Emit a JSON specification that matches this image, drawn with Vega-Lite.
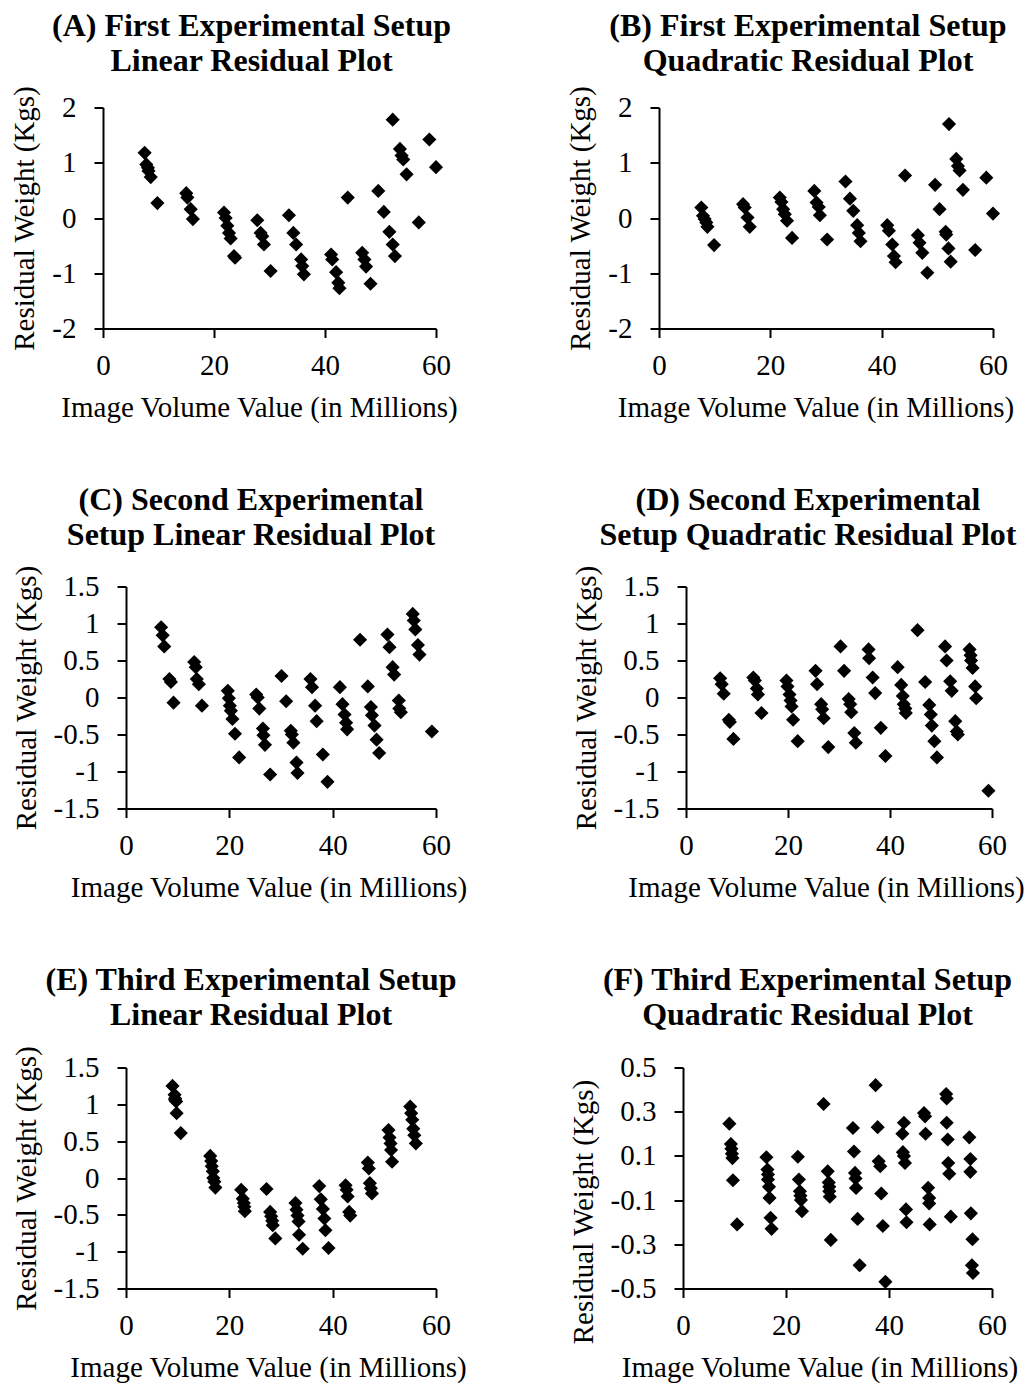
{
"$schema": "https://vega.github.io/schema/vega-lite/v6.json",
"background": "white",
"padding": {"left": 10, "top": 9.5, "right": 0, "bottom": 0},
"config": {
 "view": {"stroke": null},
 "font": "Liberation Serif",
 "axis": {"domainColor": "#000", "domainWidth": 2, "tickColor": "#000", "tickWidth": 2, "tickSize": 9, "labelFont": "Liberation Serif", "labelFontSize": 29, "labelColor": "#000", "titleFont": "Liberation Serif", "titleFontSize": 29, "titleFontWeight": "normal", "titleColor": "#000", "grid": false, "labelFlush": false, "labelOverlap": false},
 "axisX": {"labelPadding": 14, "titlePadding": 13},
 "axisY": {"labelPadding": 18, "titlePadding": 12},
 "title": {"font": "Liberation Serif", "fontSize": 32, "fontWeight": "bold", "color": "#000", "lineHeight": 35, "anchor": "middle", "frame": "group", "baseline": "alphabetic"},
 "point": {"shape": "diamond", "filled": true, "color": "#000", "size": 200, "opacity": 1}
},
"datasets": {
 "A": [{"x":7.5,"y":1.18},{"x":7.8,"y":0.97},{"x":8.1,"y":0.91},{"x":8.2,"y":0.85},{"x":8.6,"y":0.74},{"x":9.8,"y":0.27},{"x":15.0,"y":0.45},{"x":15.2,"y":0.37},{"x":15.8,"y":0.16},{"x":16.2,"y":-0.02},{"x":21.8,"y":0.10},{"x":22.1,"y":0.0},{"x":22.4,"y":-0.14},{"x":22.7,"y":-0.27},{"x":23.0,"y":-0.37},{"x":23.6,"y":-0.69},{"x":23.8,"y":-0.72},{"x":27.8,"y":-0.04},{"x":28.4,"y":-0.27},{"x":28.7,"y":-0.33},{"x":29.0,"y":-0.48},{"x":30.2,"y":-0.96},{"x":33.5,"y":0.05},{"x":34.3,"y":-0.27},{"x":34.8,"y":-0.48},{"x":35.7,"y":-0.75},{"x":35.9,"y":-0.87},{"x":36.2,"y":-1.02},{"x":41.1,"y":-0.66},{"x":41.3,"y":-0.75},{"x":42.0,"y":-0.98},{"x":42.4,"y":-1.17},{"x":42.6,"y":-1.27},{"x":44.1,"y":0.37},{"x":46.7,"y":-0.63},{"x":47.1,"y":-0.75},{"x":47.4,"y":-0.88},{"x":48.2,"y":-1.19},{"x":49.6,"y":0.49},{"x":50.6,"y":0.11},{"x":51.6,"y":-0.25},{"x":52.2,"y":-0.48},{"x":52.6,"y":-0.69},{"x":52.2,"y":1.78},{"x":53.5,"y":1.25},{"x":53.8,"y":1.13},{"x":54.1,"y":1.06},{"x":54.7,"y":0.79},{"x":56.9,"y":-0.08},{"x":58.8,"y":1.42},{"x":60.0,"y":0.92}],
 "B": [{"x":7.6,"y":0.19},{"x":7.9,"y":0.04},{"x":8.2,"y":-0.02},{"x":8.5,"y":-0.08},{"x":8.7,"y":-0.16},{"x":9.9,"y":-0.49},{"x":15.1,"y":0.25},{"x":15.4,"y":0.19},{"x":15.9,"y":0.01},{"x":16.3,"y":-0.16},{"x":21.7,"y":0.37},{"x":22.0,"y":0.29},{"x":22.3,"y":0.16},{"x":22.6,"y":0.07},{"x":23.0,"y":-0.05},{"x":23.9,"y":-0.36},{"x":27.9,"y":0.49},{"x":28.3,"y":0.28},{"x":28.7,"y":0.2},{"x":28.9,"y":0.05},{"x":30.2,"y":-0.39},{"x":33.5,"y":0.66},{"x":34.3,"y":0.35},{"x":34.9,"y":0.13},{"x":35.6,"y":-0.13},{"x":35.9,"y":-0.27},{"x":36.2,"y":-0.42},{"x":41.0,"y":-0.13},{"x":41.3,"y":-0.23},{"x":41.9,"y":-0.48},{"x":42.2,"y":-0.69},{"x":42.5,"y":-0.80},{"x":44.2,"y":0.77},{"x":46.5,"y":-0.31},{"x":46.8,"y":-0.45},{"x":47.3,"y":-0.63},{"x":48.2,"y":-0.99},{"x":49.6,"y":0.60},{"x":50.4,"y":0.16},{"x":51.5,"y":-0.25},{"x":51.6,"y":-0.30},{"x":52.0,"y":-0.55},{"x":52.4,"y":-0.79},{"x":52.1,"y":1.70},{"x":53.4,"y":1.07},{"x":53.7,"y":0.94},{"x":54.0,"y":0.86},{"x":54.6,"y":0.51},{"x":56.8,"y":-0.58},{"x":58.8,"y":0.73},{"x":60.0,"y":0.08}],
 "C": [{"x":6.8,"y":0.95},{"x":7.1,"y":0.84},{"x":7.4,"y":0.69},{"x":8.4,"y":0.25},{"x":8.7,"y":0.21},{"x":9.2,"y":-0.07},{"x":13.2,"y":0.48},{"x":13.5,"y":0.41},{"x":13.7,"y":0.25},{"x":14.1,"y":0.18},{"x":14.7,"y":-0.11},{"x":19.7,"y":0.09},{"x":19.9,"y":-0.01},{"x":20.1,"y":-0.11},{"x":20.3,"y":-0.18},{"x":20.6,"y":-0.29},{"x":21.1,"y":-0.49},{"x":21.9,"y":-0.81},{"x":25.2,"y":0.04},{"x":25.5,"y":0.0},{"x":25.8,"y":-0.15},{"x":26.5,"y":-0.42},{"x":26.6,"y":-0.51},{"x":26.9,"y":-0.64},{"x":27.9,"y":-1.04},{"x":30.1,"y":0.29},{"x":31.0,"y":-0.05},{"x":31.9,"y":-0.45},{"x":32.1,"y":-0.50},{"x":32.4,"y":-0.61},{"x":33.0,"y":-0.88},{"x":33.2,"y":-1.02},{"x":35.7,"y":0.25},{"x":36.0,"y":0.14},{"x":36.6,"y":-0.11},{"x":36.9,"y":-0.32},{"x":38.1,"y":-0.77},{"x":39.0,"y":-1.14},{"x":41.4,"y":0.14},{"x":41.9,"y":-0.09},{"x":42.3,"y":-0.23},{"x":42.6,"y":-0.34},{"x":42.8,"y":-0.43},{"x":45.3,"y":0.78},{"x":46.8,"y":0.15},{"x":47.4,"y":-0.13},{"x":47.6,"y":-0.24},{"x":48.1,"y":-0.38},{"x":48.5,"y":-0.57},{"x":49.0,"y":-0.75},{"x":50.6,"y":0.85},{"x":51.0,"y":0.68},{"x":51.6,"y":0.41},{"x":51.9,"y":0.31},{"x":52.8,"y":-0.04},{"x":52.9,"y":-0.15},{"x":53.2,"y":-0.20},{"x":55.5,"y":1.13},{"x":55.7,"y":1.04},{"x":56.0,"y":0.92},{"x":56.5,"y":0.71},{"x":56.8,"y":0.58},{"x":59.2,"y":-0.46}],
 "D": [{"x":6.7,"y":0.26},{"x":7.0,"y":0.18},{"x":7.4,"y":0.05},{"x":8.4,"y":-0.30},{"x":8.6,"y":-0.33},{"x":9.3,"y":-0.56},{"x":13.2,"y":0.27},{"x":13.5,"y":0.23},{"x":13.9,"y":0.12},{"x":14.1,"y":0.04},{"x":14.8,"y":-0.21},{"x":19.7,"y":0.23},{"x":19.9,"y":0.15},{"x":20.3,"y":0.04},{"x":20.5,"y":-0.04},{"x":20.7,"y":-0.12},{"x":21.0,"y":-0.30},{"x":21.9,"y":-0.59},{"x":25.4,"y":0.36},{"x":25.7,"y":0.18},{"x":26.5,"y":-0.09},{"x":26.7,"y":-0.16},{"x":27.0,"y":-0.28},{"x":27.9,"y":-0.67},{"x":30.3,"y":0.69},{"x":31.0,"y":0.36},{"x":31.9,"y":-0.02},{"x":32.2,"y":-0.09},{"x":32.4,"y":-0.20},{"x":33.0,"y":-0.48},{"x":33.3,"y":-0.61},{"x":35.8,"y":0.65},{"x":35.9,"y":0.53},{"x":36.6,"y":0.27},{"x":37.1,"y":0.06},{"x":38.2,"y":-0.41},{"x":39.1,"y":-0.79},{"x":41.5,"y":0.41},{"x":42.2,"y":0.17},{"x":42.5,"y":0.02},{"x":42.7,"y":-0.09},{"x":43.0,"y":-0.15},{"x":43.1,"y":-0.21},{"x":45.4,"y":0.91},{"x":46.9,"y":0.21},{"x":47.7,"y":-0.10},{"x":48.0,"y":-0.23},{"x":48.2,"y":-0.38},{"x":48.7,"y":-0.59},{"x":49.2,"y":-0.81},{"x":50.8,"y":0.69},{"x":51.1,"y":0.50},{"x":51.8,"y":0.22},{"x":52.1,"y":0.09},{"x":52.8,"y":-0.32},{"x":53.1,"y":-0.46},{"x":53.3,"y":-0.50},{"x":55.6,"y":0.65},{"x":55.8,"y":0.57},{"x":55.9,"y":0.50},{"x":56.2,"y":0.40},{"x":56.7,"y":0.15},{"x":56.9,"y":-0.01},{"x":59.3,"y":-1.26}],
 "E": [{"x":9.0,"y":1.25},{"x":9.4,"y":1.13},{"x":9.5,"y":1.08},{"x":9.5,"y":1.06},{"x":9.7,"y":1.04},{"x":9.8,"y":0.88},{"x":10.6,"y":0.61},{"x":16.3,"y":0.30},{"x":16.5,"y":0.23},{"x":16.6,"y":0.16},{"x":16.8,"y":0.09},{"x":16.9,"y":0.0},{"x":17.1,"y":-0.05},{"x":17.3,"y":-0.13},{"x":22.3,"y":-0.16},{"x":22.6,"y":-0.28},{"x":22.8,"y":-0.34},{"x":22.9,"y":-0.39},{"x":23.0,"y":-0.45},{"x":27.2,"y":-0.15},{"x":27.9,"y":-0.46},{"x":28.1,"y":-0.52},{"x":28.3,"y":-0.58},{"x":28.4,"y":-0.64},{"x":28.9,"y":-0.82},{"x":32.8,"y":-0.34},{"x":33.0,"y":-0.43},{"x":33.2,"y":-0.51},{"x":33.4,"y":-0.59},{"x":33.5,"y":-0.77},{"x":34.2,"y":-0.96},{"x":37.4,"y":-0.11},{"x":37.7,"y":-0.29},{"x":38.1,"y":-0.42},{"x":38.4,"y":-0.55},{"x":38.6,"y":-0.71},{"x":39.2,"y":-0.95},{"x":42.5,"y":-0.10},{"x":42.7,"y":-0.16},{"x":42.9,"y":-0.25},{"x":43.2,"y":-0.46},{"x":43.4,"y":-0.51},{"x":46.8,"y":0.21},{"x":47.0,"y":0.13},{"x":47.2,"y":-0.07},{"x":47.4,"y":-0.14},{"x":47.6,"y":-0.21},{"x":50.8,"y":0.65},{"x":51.0,"y":0.55},{"x":51.2,"y":0.47},{"x":51.3,"y":0.38},{"x":51.5,"y":0.22},{"x":55.0,"y":0.97},{"x":55.2,"y":0.88},{"x":55.4,"y":0.79},{"x":55.6,"y":0.67},{"x":55.8,"y":0.58},{"x":56.1,"y":0.47}],
 "F": [{"x":9.0,"y":0.246},{"x":9.3,"y":0.154},{"x":9.4,"y":0.132},{"x":9.5,"y":0.11},{"x":9.6,"y":0.09},{"x":9.7,"y":-0.01},{"x":10.5,"y":-0.21},{"x":16.2,"y":0.094},{"x":16.4,"y":0.038},{"x":16.5,"y":0.016},{"x":16.5,"y":-0.007},{"x":16.7,"y":-0.04},{"x":16.8,"y":-0.09},{"x":17.0,"y":-0.18},{"x":17.2,"y":-0.23},{"x":22.3,"y":0.096},{"x":22.5,"y":-0.007},{"x":22.7,"y":-0.06},{"x":22.8,"y":-0.08},{"x":22.9,"y":-0.10},{"x":23.1,"y":-0.15},{"x":27.3,"y":0.335},{"x":28.1,"y":0.03},{"x":28.3,"y":-0.02},{"x":28.4,"y":-0.04},{"x":28.4,"y":-0.06},{"x":28.5,"y":-0.085},{"x":28.7,"y":-0.28},{"x":33.0,"y":0.226},{"x":33.2,"y":0.12},{"x":33.4,"y":0.023},{"x":33.5,"y":-0.002},{"x":33.6,"y":-0.045},{"x":33.9,"y":-0.185},{"x":34.3,"y":-0.395},{"x":37.4,"y":0.42},{"x":37.8,"y":0.23},{"x":38.0,"y":0.076},{"x":38.3,"y":0.053},{"x":38.5,"y":-0.07},{"x":38.8,"y":-0.217},{"x":39.3,"y":-0.47},{"x":42.9,"y":0.25},{"x":42.6,"y":0.2},{"x":42.7,"y":0.117},{"x":42.9,"y":0.1},{"x":43.1,"y":0.068},{"x":43.3,"y":-0.142},{"x":43.4,"y":-0.2},{"x":46.8,"y":0.294},{"x":47.0,"y":0.279},{"x":47.1,"y":0.2},{"x":47.6,"y":-0.044},{"x":47.8,"y":-0.09},{"x":47.8,"y":-0.115},{"x":47.9,"y":-0.21},{"x":51.1,"y":0.38},{"x":51.2,"y":0.36},{"x":51.2,"y":0.25},{"x":51.4,"y":0.174},{"x":51.5,"y":0.068},{"x":51.7,"y":0.019},{"x":52.0,"y":-0.175},{"x":55.6,"y":0.184},{"x":55.8,"y":0.086},{"x":55.8,"y":0.028},{"x":55.9,"y":-0.16},{"x":56.2,"y":-0.277},{"x":56.1,"y":-0.395},{"x":56.3,"y":-0.43}],
 "empty": []
},
"vconcat": [
 {"hconcat": [
  {"data": {"name": "A"}, "width": 333, "height": 221,
   "title": {"text": ["(A) First Experimental Setup", "Linear Residual Plot"], "dx": -18, "offset": 7},
   "mark": {"type": "point"},
   "encoding": {
    "x": {"field": "x", "type": "quantitative", "scale": {"domain": [0, 60], "nice": false, "zero": false}, "axis": {"values": [0, 20, 40, 60], "title": "Image Volume Value (in Millions)", "titleX": 156}},
    "y": {"field": "y", "type": "quantitative", "scale": {"domain": [-2, 2], "nice": false}, "axis": {"values": [-2, -1, 0, 1, 2], "title": "Residual Weight (Kgs)", "labelExpr": "replace(format(datum.value, '~g'), '\u2212', '-')"}}}},
  {"data": {"name": "B"}, "width": 334, "height": 221,
   "title": {"text": ["(B) First Experimental Setup", "Quadratic Residual Plot"], "dx": -18, "offset": 7},
   "mark": {"type": "point"},
   "encoding": {
    "x": {"field": "x", "type": "quantitative", "scale": {"domain": [0, 60], "nice": false, "zero": false}, "axis": {"values": [0, 20, 40, 60], "title": "Image Volume Value (in Millions)", "titleX": 156.5}},
    "y": {"field": "y", "type": "quantitative", "scale": {"domain": [-2, 2], "nice": false}, "axis": {"values": [-2, -1, 0, 1, 2], "title": "Residual Weight (Kgs)", "labelExpr": "replace(format(datum.value, '~g'), '\u2212', '-')"}}}}
 ], "spacing": 223, "bounds": "flush"},
 {"hconcat": [
  {"data": {"name": "empty"}, "width": 23, "height": 222, "mark": {"type": "point"}, "encoding": {}},
  {"hconcat": [
   {"data": {"name": "C"}, "width": 310, "height": 222,
    "title": {"text": ["(C) Second Experimental", "Setup Linear Residual Plot"], "dx": -30, "offset": 13},
    "mark": {"type": "point"},
    "encoding": {
     "x": {"field": "x", "type": "quantitative", "scale": {"domain": [0, 60], "nice": false, "zero": false}, "axis": {"values": [0, 20, 40, 60], "title": "Image Volume Value (in Millions)", "titleX": 142.5}},
     "y": {"field": "y", "type": "quantitative", "scale": {"domain": [-1.5, 1.5], "nice": false}, "axis": {"values": [-1.5, -1, -0.5, 0, 0.5, 1, 1.5], "title": "Residual Weight (Kgs)", "labelExpr": "replace(format(datum.value, '~g'), '\u2212', '-')"}}}},
   {"data": {"name": "D"}, "width": 306, "height": 222,
    "title": {"text": ["(D) Second Experimental", "Setup Quadratic Residual Plot"], "dx": -31, "offset": 13},
    "mark": {"type": "point"},
    "encoding": {
     "x": {"field": "x", "type": "quantitative", "scale": {"domain": [0, 60], "nice": false, "zero": false}, "axis": {"values": [0, 20, 40, 60], "title": "Image Volume Value (in Millions)", "titleX": 140}},
     "y": {"field": "y", "type": "quantitative", "scale": {"domain": [-1.5, 1.5], "nice": false}, "axis": {"values": [-1.5, -1, -0.5, 0, 0.5, 1, 1.5], "title": "Residual Weight (Kgs)", "labelExpr": "replace(format(datum.value, '~g'), '\u2212', '-')"}}}}
  ], "spacing": 250, "bounds": "flush"}
 ], "spacing": 0, "bounds": "flush"},
 {"hconcat": [
  {"data": {"name": "empty"}, "width": 23, "height": 221, "mark": {"type": "point"}, "encoding": {}},
  {"hconcat": [
   {"data": {"name": "E"}, "width": 310, "height": 221,
    "title": {"text": ["(E) Third Experimental Setup", "Linear Residual Plot"], "dx": -30, "offset": 13},
    "mark": {"type": "point"},
    "encoding": {
     "x": {"field": "x", "type": "quantitative", "scale": {"domain": [0, 60], "nice": false, "zero": false}, "axis": {"values": [0, 20, 40, 60], "title": "Image Volume Value (in Millions)", "titleX": 142}},
     "y": {"field": "y", "type": "quantitative", "scale": {"domain": [-1.5, 1.5], "nice": false}, "axis": {"values": [-1.5, -1, -0.5, 0, 0.5, 1, 1.5], "title": "Residual Weight (Kgs)", "labelExpr": "replace(format(datum.value, '~g'), '\u2212', '-')"}}}},
   {"data": {"name": "F"}, "width": 309, "height": 221,
    "title": {"text": ["(F) Third Experimental Setup", "Quadratic Residual Plot"], "dx": -30, "offset": 22},
    "mark": {"type": "point"},
    "encoding": {
     "x": {"field": "x", "type": "quantitative", "scale": {"domain": [0, 60], "nice": false, "zero": false}, "axis": {"values": [0, 20, 40, 60], "title": "Image Volume Value (in Millions)", "titleX": 136.5}},
     "y": {"field": "y", "type": "quantitative", "scale": {"domain": [-0.5, 0.5], "nice": false}, "axis": {"values": [-0.5, -0.3, -0.1, 0.1, 0.3, 0.5], "title": "Residual Weight (Kgs)", "titleY": 144, "labelExpr": "replace(format(datum.value, '.1f'), '\u2212', '-')"}}}}
  ], "spacing": 247, "bounds": "flush"}
 ], "spacing": 0, "bounds": "flush"}
], "spacing": 61, "bounds": "full"
}
